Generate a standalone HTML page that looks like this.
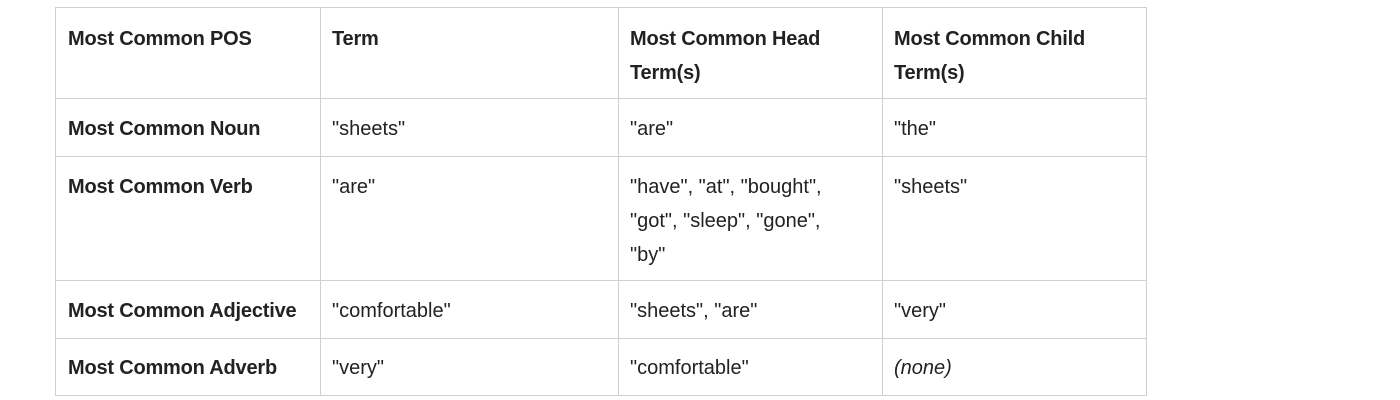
<!DOCTYPE html>
<html><head><style>
body{margin:0;width:1400px;height:400px;background:#fff;position:relative;overflow:hidden;font-family:"Liberation Sans",sans-serif;color:#222;font-size:20px;}
.b{position:absolute;background:#cfcfcf}
.t{position:absolute;line-height:34px;white-space:nowrap}
.h{font-weight:bold;letter-spacing:-0.2px}
</style></head><body>
<div class="b" style="left:55px;top:7px;width:1092px;height:1px"></div>
<div class="b" style="left:55px;top:98px;width:1092px;height:1px"></div>
<div class="b" style="left:55px;top:156px;width:1092px;height:1px"></div>
<div class="b" style="left:55px;top:280px;width:1092px;height:1px"></div>
<div class="b" style="left:55px;top:338px;width:1092px;height:1px"></div>
<div class="b" style="left:55px;top:395px;width:1092px;height:1px"></div>
<div class="b" style="left:55px;top:7px;width:1px;height:389px"></div>
<div class="b" style="left:320px;top:7px;width:1px;height:389px"></div>
<div class="b" style="left:618px;top:7px;width:1px;height:389px"></div>
<div class="b" style="left:882px;top:7px;width:1px;height:389px"></div>
<div class="b" style="left:1146px;top:7px;width:1px;height:389px"></div>

<div class="t h" style="left:68px;top:22px">Most Common POS</div>
<div class="t h" style="left:332px;top:22px">Term</div>
<div class="t h" style="left:630px;top:22px">Most Common Head<br>Term(s)</div>
<div class="t h" style="left:894px;top:22px">Most Common Child<br>Term(s)</div>

<div class="t h" style="left:68px;top:112px">Most Common Noun</div>
<div class="t" style="left:332px;top:112px">"sheets"</div>
<div class="t" style="left:630px;top:112px">"are"</div>
<div class="t" style="left:894px;top:112px">"the"</div>

<div class="t h" style="left:68px;top:170px">Most Common Verb</div>
<div class="t" style="left:332px;top:170px">"are"</div>
<div class="t" style="left:630px;top:170px">"have", "at", "bought",<br>"got", "sleep", "gone",<br>"by"</div>
<div class="t" style="left:894px;top:170px">"sheets"</div>

<div class="t h" style="left:68px;top:294px">Most Common Adjective</div>
<div class="t" style="left:332px;top:294px">"comfortable"</div>
<div class="t" style="left:630px;top:294px">"sheets", "are"</div>
<div class="t" style="left:894px;top:294px">"very"</div>

<div class="t h" style="left:68px;top:351px">Most Common Adverb</div>
<div class="t" style="left:332px;top:351px">"very"</div>
<div class="t" style="left:630px;top:351px">"comfortable"</div>
<div class="t" style="left:894px;top:351px;font-style:italic">(none)</div>
</body></html>
